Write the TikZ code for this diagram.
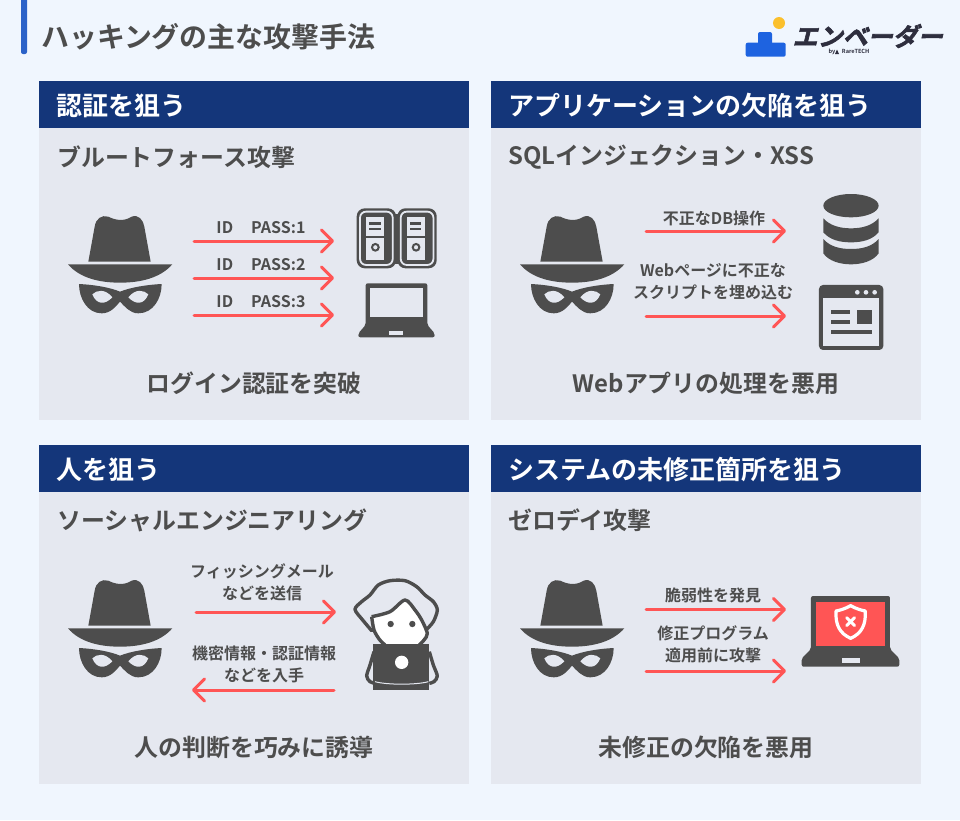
\documentclass[tikz,border=0pt]{standalone}
\usepackage{fontspec}
\setmainfont{Noto Sans CJK JP}[BoldFont={Noto Sans CJK JP Bold}]
\newfontfamily\logofont{Noto Sans CJK JP Bold}[FakeBold=2.5]
\usetikzlibrary{arrows.meta,positioning}
\definecolor{Ink}{HTML}{4D4D4D}
\definecolor{Navy}{HTML}{14367A}
\definecolor{Panel}{HTML}{E5E8F0}
\definecolor{Page}{HTML}{F0F6FE}
\definecolor{Alert}{HTML}{FF5555}
\definecolor{Bar}{HTML}{2B62C8}
\definecolor{LogoBlue}{HTML}{1E63E0}
\definecolor{LogoSun}{HTML}{FBC02D}
\definecolor{LogoInk}{HTML}{2E2E3E}

\begin{document}
\begin{tikzpicture}[
  x=1pt,y=-1pt,
  panel/.style={fill=Panel,minimum width=430pt,minimum height=339pt,inner sep=0pt,anchor=north west},
  head/.style={fill=Navy,minimum width=430pt,minimum height=47pt,inner sep=0pt,anchor=north west},
  headtext/.style={text=white,anchor=west,inner sep=0pt,font=\fontsize{26}{30}\selectfont\bfseries},
  subtext/.style={text=Ink,anchor=west,inner sep=0pt,font=\fontsize{23.9}{28}\selectfont\bfseries},
  tailtext/.style={text=Ink,inner sep=0pt,font=\fontsize{23.9}{28}\selectfont\bfseries},
  small/.style={text=Ink,inner sep=0pt,align=center,font=\fontsize{16}{22}\selectfont\bfseries},
  attack/.style={-{Straight Barb[length=11pt,width=22pt,round]},line width=3pt,draw=Alert,line cap=round},
  hat/.pic={
    \begin{scope}[scale=0.3333]
    \fill[Ink] (85,155) -- (104,50) .. controls (108,25) and (125,14) .. (145,20) .. controls (165,30) and (190,36) .. (215,20) .. controls (235,12) and (250,30) .. (253,50) -- (272,155) -- cycle;
    \fill[Ink] (24,163) -- (337,163) .. controls (300,205) and (240,218) .. (180,218) .. controls (120,218) and (60,205) .. cycle;
    \fill[Ink] (57,222) .. controls (100,224) and (150,232) .. (180,245) .. controls (212,232) and (262,224) .. (305,222) .. controls (305,265) and (280,310) .. (235,310) .. controls (210,310) and (195,290) .. (180,275) .. controls (167,290) and (152,310) .. (125,310) .. controls (82,310) and (57,265) .. cycle;
    \fill[Panel] (97,253) .. controls (110,240) and (135,235) .. (157,262) .. controls (135,285) and (110,285) .. cycle;
    \fill[Panel] (265,253) .. controls (252,240) and (227,235) .. (205,262) .. controls (227,285) and (252,285) .. cycle;
    \end{scope}
  },
  tower/.pic={
    \fill[Ink,rounded corners=8pt] (0,0) rectangle (118,180);
    \draw[Panel,line width=1.8pt,rounded corners=6pt] (10,10) rectangle (108,170);
    \fill[Panel] (28,26) rectangle (82,155);
    \fill[Ink] (28,83) rectangle (82,88);
    \fill[Ink] (38,42) rectangle (72,49);
    \fill[Ink] (38,58) rectangle (72,65);
    \draw[Ink,line width=2pt] (56,117) circle (10);
  },
  laptop/.pic={
    \begin{scope}[scale=0.3333]
    \fill[Ink,rounded corners=2pt] (47,250) -- (232,250) -- (232,375) -- (254,400) -- (254,412) -- (25,412) -- (25,400) -- (47,375) -- cycle;
    \fill[Panel] (60,263) rectangle (220,352);
    \fill[Panel] (118,393) rectangle (160,405);
    \end{scope}
  },
  database/.pic={
    \begin{scope}[scale=0.3333]
    \fill[Ink] (693,62) ellipse [x radius=83,y radius=35];
    \fill[Ink] (610,100) .. controls (630,122) and (660,130) .. (693,130) .. controls (726,130) and (756,122) .. (776,100) -- (776,142) .. controls (756,165) and (726,172) .. (693,172) .. controls (660,172) and (630,165) .. (610,142) -- cycle;
    \fill[Ink] (610,162) .. controls (630,185) and (660,192) .. (693,192) .. controls (726,192) and (756,185) .. (776,162) -- (776,205) .. controls (760,228) and (726,238) .. (693,238) .. controls (660,238) and (626,228) .. (610,205) -- cycle;
    \end{scope}
  },
  webpage/.pic={
    \begin{scope}[scale=0.3333]
    \fill[Ink,rounded corners=4pt] (597,300) rectangle (790,495);
    \fill[Panel] (610,340) rectangle (777,482);
    \fill[Panel] (712,322) circle (7) (738,322) circle (7) (764,322) circle (7);
    \fill[Ink] (633,374) rectangle (690,386);
    \fill[Ink] (633,404) rectangle (690,416);
    \fill[Ink] (633,434) rectangle (757,446);
    \fill[Ink] (712,374) rectangle (757,418);
    \end{scope}
  },
  person/.pic={
    \begin{scope}[scale=0.3333]
    \fill[white] plot[smooth] coordinates {(65,140) (120,125) (165,90) (195,120) (215,150) (232,190) (222,210) (208,225) (105,225) (88,208) (72,180)} -- cycle;
    \draw[Ink,line width=3.4pt,line join=round,line cap=round] plot[smooth] coordinates {(65,182) (38,150) (15,118) (35,95) (60,75) (85,45) (120,32) (165,32) (200,50) (225,75) (250,95) (262,120) (250,155) (228,180)};
    \draw[Ink,line width=3.4pt,line join=round] plot[smooth] coordinates {(65,140) (120,125) (165,90) (195,120) (215,150) (232,190) (222,210) (208,225)};
    \draw[Ink,line width=3.4pt,line join=round] plot[smooth] coordinates {(65,140) (72,180) (88,208) (105,225)};
    \fill[Ink] (122,162) circle (9.5) (187,162) circle (9.5);
    \draw[Ink,line width=3.4pt,line join=round] plot[smooth] coordinates {(72,245) (60,285) (50,318) (60,335) (75,340)};
    \draw[Ink,line width=3.4pt,line join=round] plot[smooth] coordinates {(238,245) (250,285) (262,318) (252,335) (238,340)};
    \fill[Ink] (70,222) rectangle (238,360);
    \draw[Panel,line width=1pt] (75,335) .. controls (110,345) and (200,345) .. (235,335);
    \fill[white] (155,277) circle (20);
    \end{scope}
  },
  breached/.pic={
    \begin{scope}[scale=0.3333]
    \fill[Ink,rounded corners=2pt] (543,63) -- (780,63) -- (780,222) -- (808,250) -- (808,275) -- (515,275) -- (515,250) -- (543,222) -- cycle;
    \fill[Alert] (558,80) rectangle (765,212);
    \fill[Panel] (635,250) rectangle (690,263);
    \draw[white,line width=3.2pt,line join=round] (662,92) .. controls (680,102) and (695,106) .. (706,108) .. controls (708,150) and (695,175) .. (662,190) .. controls (629,175) and (616,150) .. (618,108) .. controls (629,106) and (644,102) .. cycle;
    \draw[white,line width=3pt,line cap=round] (650,128) -- (674,152) (674,128) -- (650,152);
    \end{scope}
  }
]
\useasboundingbox[fill=Page] (0,0) rectangle (960,820);
% title and logo
\fill[Bar,rounded corners=2pt] (21,-5) rectangle (27,54);
\node[anchor=west,inner sep=0pt,text=Ink,font=\fontsize{27.9}{32}\selectfont\bfseries] (title) at (41,37) {ハッキングの主な攻撃手法};
\fill[LogoSun] (779,23) circle (6);
\fill[LogoBlue,rounded corners=2pt] (758,32) rectangle (772,46);
\fill[LogoBlue,rounded corners=2pt] (745.7,42.7) rectangle (785.7,56.7);
\node[text=LogoInk,inner sep=0pt,xslant=0.25,font=\fontsize{25}{25}\selectfont\logofont] (logo) at (870,36) {エンベーダー};
\node[text=LogoInk,inner sep=0pt,font=\fontsize{5.6}{6}\selectfont\bfseries] (logoby) at (849,51.5) {by \hspace{4pt} RareTECH};
\fill[LogoInk] (835,54) -- (837,49.5) -- (839,54) -- cycle;

% panels
\node[panel] (panelA) at (39,81) {};
\node[panel] (panelB) at (491,81) {};
\node[panel] (panelC) at (39,445) {};
\node[panel] (panelD) at (491,445) {};
\node[head] (headA) at (39,81) {};
\node[head] (headB) at (491,81) {};
\node[head] (headC) at (39,445) {};
\node[head] (headD) at (491,445) {};
\node[headtext] (headtextA) at (56,105.5) {認証を狙う};
\node[headtext] (headtextB) at (508,105.5) {アプリケーションの欠陥を狙う};
\node[headtext] (headtextC) at (56,469.5) {人を狙う};
\node[headtext] (headtextD) at (508,469.5) {システムの未修正箇所を狙う};
\node[subtext] (subA) at (57,157) {ブルートフォース攻撃};
\node[subtext] (subB) at (508,157) {SQLインジェクション・XSS};
\node[subtext] (subC) at (57,520) {ソーシャルエンジニアリング};
\node[subtext] (subD) at (508,520) {ゼロデイ攻撃};
\node[tailtext] (tailA) at (254,383) {ログイン認証を突破};
\node[tailtext] (tailB) at (706,383) {Webアプリの処理を悪用};
\node[tailtext] (tailC) at (254,747) {人の判断を巧みに誘導};
\node[tailtext] (tailD) at (706,747) {未修正の欠陥を悪用};

% icons
\pic at (60,210) {hat};
\pic at (512,210) {hat};
\pic at (60,574) {hat};
\pic at (512,574) {hat};
\fill[Ink] (388,214) rectangle (405,264);
\pic[scale=0.3333] at (356.7,208.3) {tower};
\pic[scale=0.3333] at (397.4,208.3) {tower};
\pic at (350,200) {laptop};
\pic at (620,185) {database};
\pic at (620,185) {webpage};
\pic at (350,570) {person};
\pic at (630,575) {breached};

% panel A
\node[small] (idA) at (261,228) {ID\hspace{18pt}PASS:1};
\node[small] (idB) at (261,265) {ID\hspace{18pt}PASS:2};
\node[small] (idC) at (261,302) {ID\hspace{18pt}PASS:3};
\coordinate (fromA) at (194,241);
\coordinate (toA) at (334,241);
\coordinate (fromB) at (194,278);
\coordinate (toB) at (334,278);
\coordinate (fromC) at (194,315);
\coordinate (toC) at (334,315);
\draw[attack] (fromA) -- (toA);
\draw[attack] (fromB) -- (toB);
\draw[attack] (fromC) -- (toC);

% panel B
\node[small] (dbop) at (714,218) {不正なDB操作};
\node[small] (script) at (713,282) {Webページに不正な\\スクリプトを埋め込む};
\coordinate (fromDb) at (646,231);
\coordinate (toDb) at (786,231);
\coordinate (fromWeb) at (646,316);
\coordinate (toWeb) at (786,316);
\draw[attack] (fromDb) -- (toDb);
\draw[attack] (fromWeb) -- (toWeb);

% panel C
\node[small] (phish) at (262,582) {フィッシングメール\\などを送信};
\node[small] (steal) at (264,664) {機密情報・認証情報\\などを入手};
\coordinate (fromMail) at (196,612);
\coordinate (toMail) at (336,612);
\coordinate (fromLoot) at (334,690);
\coordinate (toLoot) at (192,690);
\draw[attack] (fromMail) -- (toMail);
\draw[attack] (fromLoot) -- (toLoot);

% panel D
\node[small] (found) at (713,595) {脆弱性を発見};
\node[small] (patch) at (713,644.5) {修正プログラム\\適用前に攻撃};
\coordinate (fromFound) at (646,609.5);
\coordinate (toFound) at (786,609.5);
\coordinate (fromPatch) at (646,671);
\coordinate (toPatch) at (786,671);
\draw[attack] (fromFound) -- (toFound);
\draw[attack] (fromPatch) -- (toPatch);
\end{tikzpicture}
\end{document}
